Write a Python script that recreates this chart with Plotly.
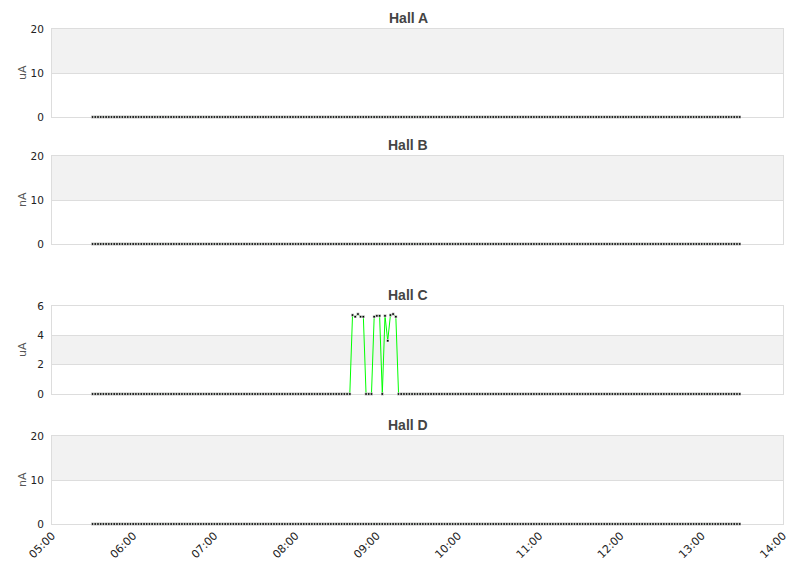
import pandas as pd
import plotly.graph_objects as go
from plotly.subplots import make_subplots

# ---- data ----
hall_names = ["Hall A", "Hall B", "Hall C", "Hall D"]
units = ["uA", "nA", "uA", "nA"]
y_ranges = [[0, 20], [0, 20], [0, 6], [0, 20]]
y_ticks = [[0, 10, 20], [0, 10, 20], [0, 2, 4, 6], [0, 10, 20]]
band_steps = [10, 10, 2, 10]

times = pd.date_range("2024-01-01 05:30", "2024-01-01 13:28", freq="2min")
n_pts = len(times)

hall_a = [0.0] * n_pts   # flat at zero all day
hall_b = [0.0] * n_pts   # flat at zero all day
hall_d = [0.0] * n_pts   # flat at zero all day

# Hall C: zero except a burst between ~08:42 and ~09:16 (samples 95..114)
hall_c_before = [0.0] * 95
hall_c_burst = [0.0, 5.38, 5.27, 5.45, 5.27, 5.27, 0.0, 0.0, 0.0, 5.27,
                5.33, 5.33, 0.0, 5.33, 3.63, 5.38, 5.45, 5.27, 0.0, 0.0]
hall_c = hall_c_before + hall_c_burst
hall_c = hall_c + [0.0] * (n_pts - len(hall_c))

series = [hall_a, hall_b, hall_c, hall_d]

x_ticks = pd.date_range("2024-01-01 05:00", "2024-01-01 14:00", freq="1h")
x_range = ["2024-01-01 05:00", "2024-01-01 14:00"]

# ---- figure ----
W, H = 811, 578
L, R, T, B = 52, 28, 29, 54
ph = H - T - B
pw = W - L - R
domains_px = [(29, 117), (156, 244), (306, 394), (436, 524)]

fig = make_subplots(rows=4, cols=1, shared_xaxes=False)

grid_col = "#dddddd"
band_col = "#f2f2f2"

for i, (name, vals) in enumerate(zip(hall_names, series)):
    r = i + 1
    top, bot = domains_px[i]
    dom = [(H - B - bot) / ph, (H - B - top) / ph]
    fig.add_trace(go.Scatter(
        x=times, y=vals, mode="lines+markers",
        line=dict(color="#00ff00", width=1),
        marker=dict(symbol="square", size=2.5, color="black",
                    line=dict(color="white", width=0.6)),
        cliponaxis=False, showlegend=False, hoverinfo="x+y"), row=r, col=1)

    xa = "xaxis" if i == 0 else f"xaxis{r}"
    ya = "yaxis" if i == 0 else f"yaxis{r}"
    fig.layout[ya].update(
        domain=dom, range=y_ranges[i], tickvals=y_ticks[i],
        showgrid=True, gridcolor=grid_col, gridwidth=1,
        showline=True, linecolor=grid_col, mirror=True, zeroline=False,
        ticks="", ticklabelstandoff=5, automargin=False,
        tickfont=dict(family="DejaVu Sans", size=10.5, color="#222"),
        layer="below traces", fixedrange=True)
    fig.layout[xa].update(
        range=x_range, tickvals=x_ticks, tickformat="%H:%M",
        showgrid=False, showline=True, linecolor=grid_col, mirror=True,
        zeroline=False, ticks="", showticklabels=(i == 3), tickangle=-45,
        automargin=False,
        tickfont=dict(family="DejaVu Sans", size=11, color="#222"),
        layer="below traces")

    # alternating background bands
    lo, hi = y_ranges[i]
    step = band_steps[i]
    k = 0
    v = lo
    while v < hi:
        if k % 2 == 1:
            fig.add_shape(type="rect", xref=f"x{'' if i == 0 else r} domain",
                          yref=f"y{'' if i == 0 else r}",
                          x0=0, x1=1, y0=v, y1=v + step,
                          fillcolor=band_col, line=dict(width=0), layer="below")
        v += step
        k += 1

    # panel title
    fig.add_annotation(
        text=f"<b>{name}</b>", xref="paper", yref="paper",
        x=(408 - L) / pw, y=(H - B - (top - 11)) / ph,
        xanchor="center", yanchor="middle", showarrow=False,
        font=dict(family="Liberation Sans", size=14, color="#444"))
    # unit label (y-axis title)
    fig.add_annotation(
        text=units[i], xref="paper", yref="paper",
        x=(22 - L) / pw, y=(dom[0] + dom[1]) / 2,
        xanchor="center", yanchor="middle", showarrow=False, textangle=-90,
        font=dict(family="DejaVu Sans", size=11, color="#555"))

fig.update_layout(
    width=W, height=H, autosize=False,
    margin=dict(l=L, r=R, t=T, b=B, pad=0),
    paper_bgcolor="white", plot_bgcolor="white",
)

fig.write_html("out.html", config={"displayModeBar": False},
               post_script="document.body.style.margin='0';"
                           "document.body.style.padding='0';")
